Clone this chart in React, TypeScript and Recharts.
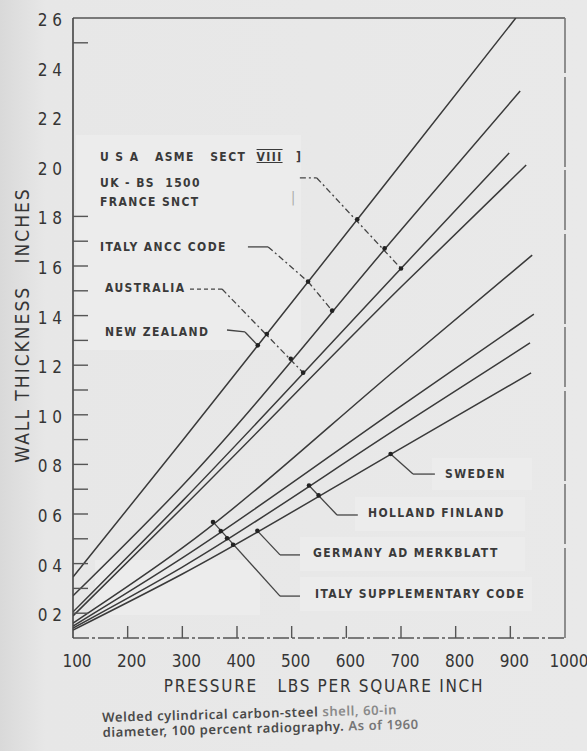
import { LineChart, Line, XAxis, YAxis, ReferenceLine, ReferenceDot } from 'recharts';

// curve pressures (psi) shared by every curve, plus each curve's own end pressure
const CURVE_PRESSURE = [100, 300, 700];
const END_PRESSURE = [910, 918, 898, 929, 940, 943, 936, 938];

// wall thickness (in), top curve first
const CURVE_A = [0.346, 0.895, 2.011, 2.6];
const CURVE_B = [0.27, 0.714, 1.745, 2.306];
const CURVE_C = [0.205, 0.652, 1.59, 2.056];
const CURVE_D = [0.189, 0.625, 1.515, 2.007];
const CURVE_E = [0.16, 0.463, 1.2, 1.644];
const CURVE_F = [0.148, 0.423, 1.035, 1.406];
const CURVE_G = [0.14, 0.386, 0.955, 1.29];
const CURVE_H = [0.132, 0.358, 0.865, 1.169];

const X_TICKS = [100, 200, 300, 400, 500, 600, 700, 800, 900, 1000];
const Y_TICKS = [0.2, 0.3, 0.4, 0.5, 0.6, 0.7, 0.8, 0.9, 1.0, 1.1, 1.2, 1.3, 1.4, 1.5, 1.6, 1.7, 1.8, 1.9, 2.0, 2.1, 2.2, 2.3, 2.4, 2.5, 2.6];

// leader lines for the code labels, in (pressure, thickness)
const LEADERS = [
  { pts: [[515, 1.955], [546, 1.955], [700, 1.59]], dash: '6 3 2 3' },
  { pts: [[420, 1.677], [457, 1.677]], dash: undefined },
  { pts: [[457, 1.677], [530, 1.537], [574, 1.42]], dash: '6 3 2 3' },
  { pts: [[314, 1.507], [372.6, 1.507]], dash: '4 3' },
  { pts: [[372.6, 1.507], [521, 1.17]], dash: '6 3 2 3' },
  { pts: [[381.7, 1.342], [414.6, 1.334], [438, 1.28]], dash: undefined },
  { pts: [[762, 0.761], [722, 0.761], [681, 0.842]], dash: undefined },
  { pts: [[621, 0.596], [583, 0.596], [531.7, 0.715]], dash: undefined },
  { pts: [[515.3, 0.435], [478.7, 0.435], [437.3, 0.532]], dash: undefined },
  { pts: [[515.3, 0.269], [478.7, 0.269], [356.1, 0.568]], dash: undefined },
];
const LEADER_DOTS = [
  [620, 1.788], [670, 1.671], [700, 1.59],
  [530, 1.537], [574, 1.42],
  [454.6, 1.326], [498.4, 1.226], [521, 1.17],
  [438, 1.28],
  [681, 0.842],
  [549.3, 0.675], [531.7, 0.715],
  [437.3, 0.532],
  [370.3, 0.531], [381.8, 0.502], [392.9, 0.476], [356.1, 0.568],
];

const CURVES = [CURVE_A, CURVE_B, CURVE_C, CURVE_D, CURVE_E, CURVE_F, CURVE_G, CURVE_H].map((vals, i) => {
  const ps = [...CURVE_PRESSURE, END_PRESSURE[i]];
  return vals.map((t, j) => ({ p: ps[j], t }));
});

const FONT = '"DejaVu Sans Condensed", "DejaVu Sans", sans-serif';
const INK = '#353535';

const YTick = ({ x, y, payload }: any) => {
  const v = payload.value;
  const tenth = Math.round(v * 10);
  const major = tenth % 2 === 0;
  const mark = tenth <= 18 || tenth === 25;
  return (
    <g>
      {mark && <line x1={x} x2={x + 15} y1={y} y2={y} stroke="#555" strokeWidth={1.4} />}
      {major && (
        <text x={x - 11} y={y + 2} textAnchor="end" dominantBaseline="central" fontFamily={FONT} fontSize={17} fill={INK}>
          {v.toFixed(1).replace('.', ' ')}
        </text>
      )}
    </g>
  );
};

const XTick = ({ x, y, payload }: any) => {
  const v = payload.value;
  const mark = v > 100 && v < 1000;
  return (
    <g>
      {mark && <line x1={x} x2={x} y1={y} y2={y - 12} stroke="#555" strokeWidth={1.4} />}
      <text x={x + 4} y={y + 23} textAnchor="middle" dominantBaseline="central" fontFamily={FONT} fontSize={17} fill={INK}>
        {v}
      </text>
    </g>
  );
};

const Tag = ({ x, y, children }: any) => (
  <div
    style={{
      position: 'absolute', left: x, top: y - 8, lineHeight: '16px', whiteSpace: 'pre',
      fontFamily: FONT, fontWeight: 'bold', fontSize: 12, letterSpacing: 1.4, color: '#3a3a3a',
    }}
  >
    {children}
  </div>
);

const PATCHES = [
  [76, 135, 225, 215],
  [432, 458, 100, 32],
  [355, 497, 170, 34],
  [300, 537, 225, 34],
  [300, 577, 232, 34],
  [95, 560, 165, 55],
];

export default function App() {
  return (
    <div style={{ position: 'absolute', left: 0, top: 0, width: 587, height: 751, overflow: 'hidden',
      background: 'linear-gradient(to right, #d9d9d9 0px, #e7e7e7 45px, #e9e9e9 100%)' }}>
      {PATCHES.map(([l, t, w, h], i) => (
        <div key={i} style={{ position: 'absolute', left: l, top: t, width: w, height: h, background: '#ececec' }} />
      ))}
      <div style={{ position: 'absolute', left: 0, top: 0 }}>
        <LineChart width={587} height={751} margin={{ top: 18, right: 22, bottom: 0, left: 0 }}>
          <XAxis
            type="number" dataKey="p" domain={[100, 1000]} ticks={X_TICKS} interval={0}
            allowDataOverflow height={113} tickSize={0} tickMargin={0} tickLine={false}
            tick={<XTick />} axisLine={{ stroke: '#555', strokeWidth: 1.5, strokeDasharray: '16 3 3 3' }}
          />
          <YAxis
            type="number" domain={[0.1, 2.6]} ticks={Y_TICKS} interval={0}
            allowDataOverflow width={73} tickSize={0} tickMargin={0} tickLine={false}
            tick={<YTick />} axisLine={{ stroke: '#444', strokeWidth: 1.6 }}
          />
          <ReferenceLine y={2.6} stroke="#555" strokeWidth={1.6} ifOverflow="visible" />
          <ReferenceLine x={1000} stroke="#777" strokeWidth={1.6} strokeDasharray="90 4 60 3" ifOverflow="visible" />
          {CURVES.map((pts, i) => (
            <Line
              key={i} data={pts} dataKey="t" type="monotone" stroke="#3a3a3a" strokeWidth={1.5}
              dot={false} activeDot={false} isAnimationActive={false}
            />
          ))}
          {LEADERS.flatMap((l, i) =>
            l.pts.slice(1).map((pt, j) => (
              <ReferenceLine
                key={`${i}-${j}`}
                segment={[{ x: l.pts[j][0], y: l.pts[j][1] }, { x: pt[0], y: pt[1] }]}
                stroke="#444" strokeWidth={1.3} strokeDasharray={l.dash} ifOverflow="visible"
              />
            ))
          )}
          {LEADER_DOTS.map(([p, t], i) => (
            <ReferenceDot key={i} x={p} y={t} r={2.3} fill="#222" stroke="none" ifOverflow="visible" />
          ))}
        </LineChart>
      </div>

      <Tag x={100} y={157}>
        {'U S A   ASME   SECT  '}
        <span style={{ textDecorationLine: 'overline underline' }}>VIII</span>
      </Tag>
      <Tag x={296} y={157}>]</Tag>
      <div style={{ position: 'absolute', left: 291, top: 189, color: '#aaa', fontSize: 14, fontFamily: FONT }}>|</div>
      <Tag x={100} y={183}>{'UK - BS  1500'}</Tag>
      <Tag x={100} y={202}>FRANCE SNCT</Tag>
      <Tag x={100} y={247}>ITALY ANCC CODE</Tag>
      <Tag x={105} y={288}>AUSTRALIA</Tag>
      <Tag x={105} y={332}>NEW ZEALAND</Tag>
      <Tag x={445} y={474}>SWEDEN</Tag>
      <Tag x={368} y={513}>HOLLAND FINLAND</Tag>
      <Tag x={313} y={553}>GERMANY AD MERKBLATT</Tag>
      <Tag x={315} y={594}>ITALY SUPPLEMENTARY CODE</Tag>

      <div style={{ position: 'absolute', left: 22, top: 325, transform: 'translate(-50%, -50%) rotate(-90deg)',
        whiteSpace: 'pre', fontFamily: FONT, fontSize: 19, letterSpacing: 2, color: INK }}>
        {'WALL THICKNESS   INCHES'}
      </div>
      <div style={{ position: 'absolute', left: 324, top: 686, transform: 'translate(-50%, -50%)',
        whiteSpace: 'pre', fontFamily: FONT, fontSize: 17, letterSpacing: 1.7, color: INK }}>
        {'PRESSURE   LBS PER SQUARE INCH'}
      </div>
      <div style={{ position: 'absolute', left: 102, top: 710, transform: 'rotate(-1.5deg)', transformOrigin: 'left top',
        fontFamily: '"Noto Sans", sans-serif', fontSize: 13, fontWeight: 600, letterSpacing: 0.6, lineHeight: '15px', color: '#4a4a4a', whiteSpace: 'pre' }}>
        <div>Welded cylindrical carbon-steel <span style={{ color: '#8a8a8a' }}>shell, 60-in</span></div>
        <div>diameter, 100 percent radiography. <span style={{ color: '#777' }}>As of 1960</span></div>
      </div>
    </div>
  );
}
